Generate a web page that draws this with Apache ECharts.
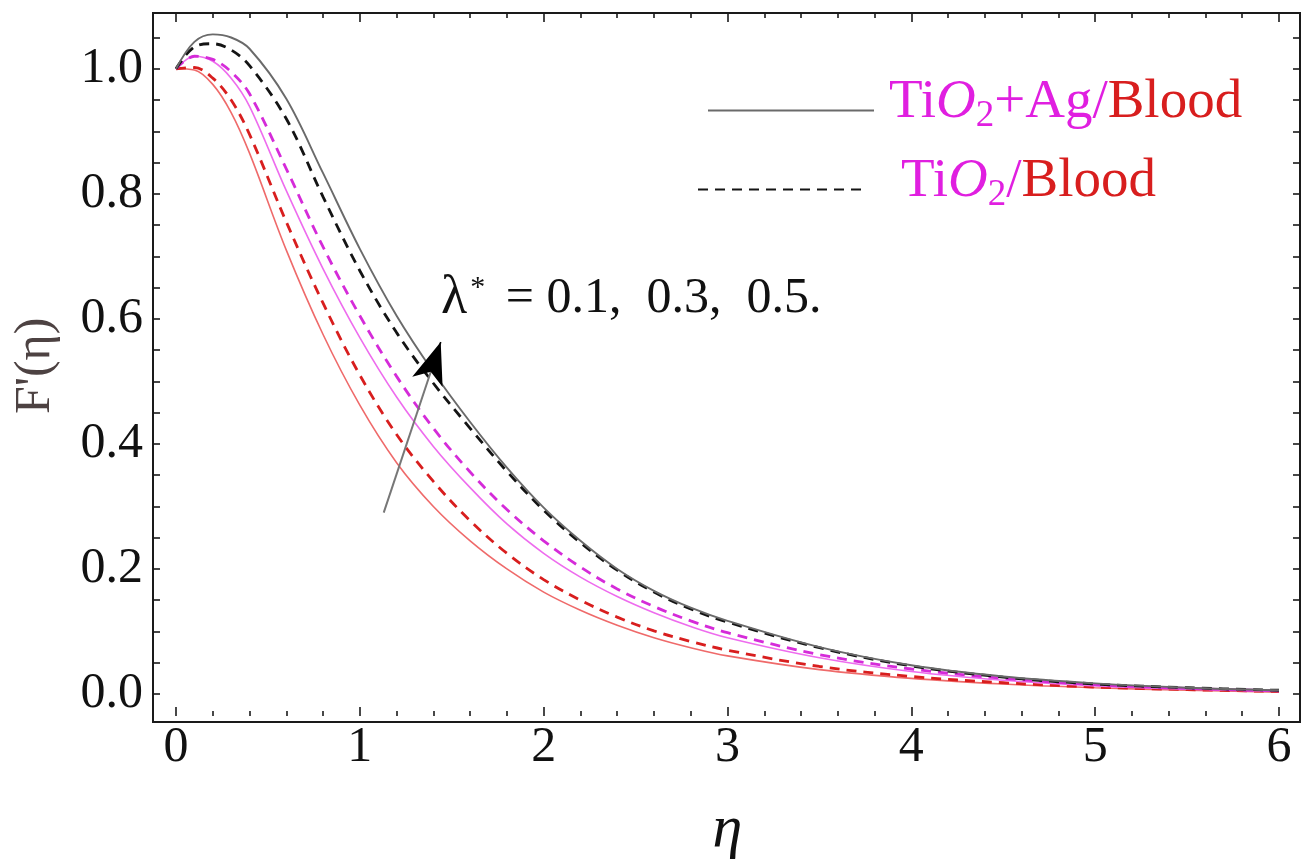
<!DOCTYPE html>
<html>
<head>
<meta charset="utf-8">
<script src="https://cdn.jsdelivr.net/npm/echarts@6/dist/echarts.min.js"></script>
<style>
  html, body { margin: 0; background: #fff; }
  #chart { width: 1307px; height: 865px; }
</style>
</head>
<body>
<div id="chart"></div>
<script>
// eta grid shared by every curve
const eta = [0, 0.1, 0.2, 0.3, 0.4, 0.6, 0.8, 1.0, 1.2, 1.4, 1.6, 1.8, 2.0, 2.2, 2.4, 2.6, 2.8, 3.0, 3.5, 4.0, 4.5, 5.0, 5.5, 6.0];
// solid = TiO2+Ag/Blood, dashed = TiO2/Blood ; lambda* = 0.1 (red), 0.3 (magenta), 0.5 (black)
const hybrid05 = [1.0, 1.043, 1.055, 1.05, 1.032, 0.952, 0.833, 0.712, 0.605, 0.515, 0.435, 0.362, 0.298, 0.245, 0.2, 0.165, 0.138, 0.117, 0.075, 0.046, 0.028, 0.017, 0.010, 0.006];
const mono05 = [1.0, 1.035, 1.04, 1.03, 1.005, 0.92, 0.795, 0.677, 0.578, 0.497, 0.425, 0.356, 0.294, 0.242, 0.198, 0.163, 0.136, 0.115, 0.074, 0.045, 0.027, 0.016, 0.010, 0.006];
const hybrid03 = [1.0, 1.02, 1.012, 0.985, 0.94, 0.805, 0.68, 0.57, 0.475, 0.396, 0.33, 0.272, 0.225, 0.187, 0.156, 0.13, 0.108, 0.09, 0.058, 0.036, 0.022, 0.013, 0.008, 0.004];
const mono03 = [1.0, 1.02, 1.015, 0.995, 0.96, 0.84, 0.715, 0.605, 0.508, 0.425, 0.355, 0.295, 0.245, 0.203, 0.168, 0.14, 0.117, 0.098, 0.063, 0.04, 0.025, 0.015, 0.009, 0.005];
const hybrid01 = [1.0, 0.998, 0.975, 0.93, 0.865, 0.71, 0.575, 0.462, 0.37, 0.3, 0.245, 0.2, 0.163, 0.134, 0.11, 0.09, 0.074, 0.061, 0.039, 0.025, 0.016, 0.010, 0.006, 0.003];
const mono01 = [1.0, 1.002, 0.985, 0.95, 0.895, 0.755, 0.625, 0.51, 0.415, 0.34, 0.277, 0.225, 0.183, 0.15, 0.123, 0.101, 0.084, 0.07, 0.044, 0.028, 0.018, 0.011, 0.007, 0.004];

const yTickLabels = [0, 0.2, 0.4, 0.6, 0.8, 1.0];
const legendNames = ['TiO2+Ag/Blood', 'TiO2/Blood'];
// arrow annotation, data coords
const arrowFrom = [1.13, 0.29];
const arrowTo = [1.44, 0.563];

const font = '"Liberation Serif", "Times New Roman", serif';
const magenta = '#e01fe0';
const red = '#d81e1e';

function pairs(ys) {
  return eta.map((x, i) => [x, ys[i]]);
}

function line(name, ys, color, width, dashed) {
  return {
    name: name,
    type: 'line',
    data: pairs(ys),
    symbol: 'none',
    smooth: 0.35,
    clip: false,
    color: color,
    lineStyle: {
      color: color,
      width: width,
      type: dashed ? [10, 7] : 'solid',
    },
  };
}

const chart = echarts.init(document.getElementById('chart'));

const tickStyle = { color: '#1a1a1a', width: 1.6 };
const legendRich = {
  a1: { color: magenta, fontSize: 55, fontFamily: font, padding: [0, 0, 16, 10] },
  a2: { color: magenta, fontSize: 55, fontFamily: font, padding: [0, 0, 16, 33] },
  a: { color: magenta, fontSize: 55, fontFamily: font, padding: [0, 0, 16, 0] },
  o: { color: magenta, fontSize: 55, fontFamily: font, fontStyle: 'italic', padding: [0, 0, 16, 0] },
  s: { color: magenta, fontSize: 37, fontFamily: font, padding: [12, 0, 0, 0] },
  r: { color: red, fontSize: 55, fontFamily: font, padding: [0, 0, 16, 0] },
};

const headBase = [
  arrowTo[0] - (arrowTo[0] - arrowFrom[0]) * 0.12,
  arrowTo[1] - (arrowTo[1] - arrowFrom[1]) * 0.12,
];

const blackSolid = line(legendNames[0], hybrid05, '#6a6a6a', 1.9, false);
blackSolid.markLine = {
  silent: true,
  animation: false,
  label: { show: false },
  data: [
    [
      { coord: arrowFrom, symbol: 'none', lineStyle: { color: '#777', width: 2, type: 'solid' } },
      { coord: arrowTo, symbol: 'none' },
    ],
    [
      { coord: headBase, symbol: 'none', lineStyle: { color: '#000', width: 1, type: 'solid' } },
      { coord: arrowTo, symbol: 'arrow', symbolSize: [24, 42] },
    ],
  ],
};

function valueAxis(extra) {
  return Object.assign({
    gridIndex: 0,
    type: 'value',
    axisLine: { show: false, onZero: false },
    splitLine: { show: false },
  }, extra);
}

const option = {
  animation: false,
  backgroundColor: '#fff',
  grid: [
    { left: 176, right: 28, top: 37.5, bottom: 165 },
    { left: 153, right: 7, top: 13, bottom: 143, show: true, borderColor: '#1a1a1a', borderWidth: 2, backgroundColor: 'transparent' },
  ],
  xAxis: [
    valueAxis({
      position: 'bottom',
      offset: 22,
      min: 0,
      max: 6,
      interval: 1,
      axisTick: { inside: true, length: 9, lineStyle: tickStyle },
      minorTick: { show: true, splitNumber: 5, length: 5, lineStyle: tickStyle },
      axisLabel: { margin: 7, fontSize: 50, fontFamily: font, color: '#111' },
      name: 'η',
      nameLocation: 'middle',
      nameGap: 84,
      nameTextStyle: { fontSize: 60, fontFamily: font, fontStyle: 'italic', color: '#111' },
    }),
    valueAxis({
      position: 'top',
      offset: 24.5,
      min: 0,
      max: 6,
      interval: 1,
      axisTick: { inside: true, length: 9, lineStyle: tickStyle },
      minorTick: { show: true, splitNumber: 5, length: 5, lineStyle: tickStyle },
      axisLabel: { show: false },
    }),
    { gridIndex: 1, type: 'value', min: 0, max: 1, show: false },
  ],
  yAxis: [
    valueAxis({
      position: 'left',
      offset: 23,
      min: 0,
      max: 1.05,
      interval: 0.05,
      axisTick: { inside: true, length: 7, lineStyle: tickStyle },
      axisLabel: {
        margin: 10,
        fontSize: 50,
        fontFamily: font,
        color: '#111',
        formatter: (v) => {
          const t = yTickLabels.find((l) => Math.abs(l - v) < 1e-6);
          return t === undefined ? '' : t.toFixed(1);
        },
      },
      name: "F'(η)",
      nameLocation: 'middle',
      nameRotate: 90,
      nameGap: 92,
      nameTextStyle: { fontSize: 50, fontFamily: font, color: '#4d4242' },
    }),
    valueAxis({
      position: 'right',
      offset: 21,
      min: 0,
      max: 1.05,
      interval: 0.05,
      axisTick: { inside: true, length: 7, lineStyle: tickStyle },
      axisLabel: { show: false },
    }),
    { gridIndex: 1, type: 'value', min: 0, max: 1, show: false },
  ],
  legend: [
    {
      data: [legendNames[0]],
      selectedMode: false,
      left: 707,
      top: 75,
      padding: 0,
      itemWidth: 166,
      itemHeight: 14,
      itemStyle: { opacity: 0 },
      formatter: () => '{a1|Ti}{o|O}{s|2}{a|+Ag/}{r|Blood}',
      textStyle: { fontFamily: font, fontSize: 55, rich: legendRich },
    },
    {
      data: [legendNames[1]],
      selectedMode: false,
      left: 697,
      top: 154,
      padding: 0,
      itemWidth: 165,
      itemHeight: 14,
      itemStyle: { opacity: 0 },
      formatter: () => '{a2|Ti}{o|O}{s|2}{a|/}{r|Blood}',
      textStyle: { fontFamily: font, fontSize: 55, rich: legendRich },
    },
  ],
  graphic: [
    {
      type: 'text',
      left: 441,
      top: 272,
      style: {
        text: '{l|λ}{p|*}{t| = 0.1,  0.3,  0.5.}',
        fill: '#111',
        font: '50px ' + font,
        rich: {
          l: { fontSize: 54, fontFamily: font, fill: '#111' },
          p: { fontSize: 30, fontFamily: font, fill: '#111', padding: [0, 8, 22, 3] },
          t: { fontSize: 50, fontFamily: font, fill: '#111' },
        },
      },
    },
  ],
  series: [
    line('hybrid01', hybrid01, '#ef6a6a', 1.6, false),
    line('mono01', mono01, red, 2.8, true),
    line('hybrid03', hybrid03, '#ee6cee', 1.6, false),
    line('mono03', mono03, '#d52bd9', 2.8, true),
    line(legendNames[1], mono05, '#141414', 2.8, true),
    blackSolid,
  ],
};

chart.setOption(option);
</script>
</body>
</html>
